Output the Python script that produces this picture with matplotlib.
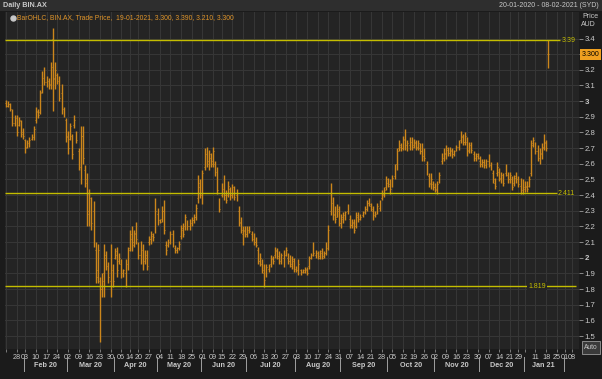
import numpy as np
import pandas as pd
import matplotlib
matplotlib.use("Agg")
import matplotlib.pyplot as plt

# ---------------- data ----------------
holidays = ["2020-01-27", "2020-04-10", "2020-04-13", "2020-06-08", "2020-12-25",
            "2020-12-28", "2021-01-01"]
start_date, end_date = "2020-01-20", "2021-01-19"

highs = [3.01,3.00,2.99,2.95,2.91,2.91,2.90,2.88,2.83,2.76,2.75,2.77,2.79,2.84,2.96,2.95,3.07,3.19,3.22,3.16,
         3.15,3.25,3.47,3.25,3.18,3.16,3.11,2.96,2.89,2.81,2.86,2.79,2.91,2.81,2.70,2.84,2.84,2.59,2.54,2.44,
         2.39,2.36,2.10,2.09,1.88,1.90,2.09,2.04,1.97,2.09,1.96,2.06,2.07,2.03,1.99,1.93,1.99,2.07,2.18,2.20,
         2.18,2.23,2.10,2.11,2.09,2.05,2.05,2.14,2.17,2.16,2.38,2.32,2.25,2.33,2.37,2.11,2.12,2.17,2.18,2.08,
         2.07,2.11,2.21,2.22,2.28,2.24,2.25,2.26,2.28,2.34,2.53,2.50,2.56,2.70,2.71,2.69,2.67,2.71,2.62,2.58,
         2.38,2.48,2.53,2.43,2.49,2.45,2.47,2.46,2.44,2.33,2.26,2.20,2.20,2.20,2.20,2.17,2.16,2.13,2.07,2.03,
         1.99,1.96,1.96,1.96,2.02,2.01,2.07,2.06,2.04,2.03,2.05,2.07,2.03,2.02,2.01,2.00,1.95,1.99,1.93,1.93,
         1.94,1.94,2.01,2.03,2.10,2.05,2.04,2.05,2.06,2.04,2.10,2.21,2.48,2.39,2.33,2.34,2.33,2.28,2.29,2.30,
         2.34,2.27,2.25,2.25,2.29,2.29,2.28,2.30,2.33,2.37,2.38,2.35,2.33,2.30,2.35,2.37,2.43,2.45,2.52,2.51,
         2.50,2.53,2.60,2.70,2.75,2.73,2.78,2.82,2.75,2.77,2.77,2.76,2.75,2.75,2.73,2.73,2.70,2.62,2.54,2.54,
         2.49,2.48,2.49,2.55,2.67,2.70,2.72,2.71,2.71,2.70,2.69,2.72,2.75,2.81,2.79,2.80,2.77,2.74,2.74,2.68,
         2.67,2.67,2.65,2.63,2.63,2.63,2.66,2.61,2.56,2.51,2.61,2.57,2.55,2.54,2.60,2.55,2.55,2.52,2.53,2.55,
         2.52,2.51,2.50,2.49,2.49,2.52,2.75,2.77,2.74,2.72,2.70,2.73,2.79,2.75,3.39]
lows = [2.96,2.96,2.94,2.84,2.84,2.78,2.84,2.77,2.76,2.67,2.70,2.71,2.75,2.75,2.86,2.89,2.92,3.05,3.10,3.09,
        3.08,3.08,2.94,3.08,3.11,3.00,2.92,2.90,2.74,2.66,2.75,2.63,2.83,2.73,2.56,2.47,2.60,2.45,2.20,2.20,
        2.18,2.07,1.84,1.84,1.46,1.75,1.75,1.92,1.84,1.75,1.81,1.99,1.88,1.96,1.87,1.88,1.81,1.92,2.04,2.04,
        2.07,2.09,1.99,1.96,1.92,1.96,1.92,2.08,2.09,2.11,2.16,2.21,2.22,2.23,2.15,2.02,2.07,2.09,2.07,2.03,
        2.03,2.05,2.12,2.13,2.18,2.18,2.18,2.20,2.22,2.24,2.35,2.38,2.34,2.56,2.58,2.56,2.58,2.58,2.52,2.41,
        2.29,2.39,2.37,2.35,2.39,2.37,2.38,2.37,2.36,2.20,2.16,2.08,2.13,2.13,2.16,2.11,2.08,2.07,1.96,1.95,
        1.90,1.815,1.88,1.91,1.94,1.96,2.00,1.99,1.96,1.96,1.94,2.01,1.96,1.94,1.93,1.91,1.91,1.89,1.89,1.90,
        1.90,1.89,1.93,1.99,2.01,2.00,1.99,1.99,1.99,2.00,2.02,2.05,2.27,2.24,2.22,2.26,2.20,2.19,2.22,2.24,
        2.28,2.19,2.19,2.16,2.19,2.23,2.24,2.26,2.28,2.30,2.33,2.30,2.24,2.26,2.28,2.30,2.37,2.39,2.43,2.45,
        2.41,2.45,2.50,2.56,2.68,2.68,2.69,2.69,2.68,2.69,2.69,2.70,2.69,2.69,2.66,2.62,2.62,2.53,2.45,2.44,
        2.43,2.42,2.41,2.48,2.60,2.62,2.63,2.65,2.65,2.64,2.65,2.68,2.69,2.73,2.72,2.72,2.65,2.67,2.67,2.62,
        2.62,2.63,2.58,2.58,2.57,2.57,2.58,2.56,2.48,2.44,2.52,2.49,2.48,2.46,2.52,2.48,2.48,2.43,2.46,2.48,
        2.45,2.41,2.41,2.42,2.42,2.45,2.52,2.71,2.66,2.62,2.60,2.63,2.69,2.68,3.21]
opens = [2.99,2.97,2.98,2.94,2.86,2.89,2.85,2.87,2.80,2.75,2.71,2.73,2.76,2.77,2.88,2.93,2.93,3.06,3.16,3.12,
         3.13,3.11,3.40,3.14,3.17,3.13,3.05,2.95,2.88,2.78,2.76,2.78,2.85,2.80,2.68,2.58,2.78,2.56,2.50,2.28,
         2.30,2.30,2.05,1.92,1.85,1.80,1.90,2.00,1.92,1.85,1.92,2.00,2.02,1.98,1.96,1.90,1.90,1.96,2.06,2.12,
         2.10,2.15,2.08,2.02,2.05,1.98,2.00,2.10,2.12,2.14,2.18,2.28,2.24,2.25,2.30,2.08,2.08,2.10,2.15,2.06,
         2.05,2.06,2.14,2.18,2.20,2.22,2.20,2.22,2.24,2.26,2.38,2.45,2.40,2.58,2.66,2.60,2.64,2.62,2.60,2.55,
         2.35,2.40,2.44,2.40,2.40,2.44,2.40,2.44,2.40,2.30,2.22,2.15,2.17,2.15,2.18,2.15,2.12,2.10,2.05,1.98,
         1.96,1.90,1.88,1.93,1.96,1.99,2.02,2.04,2.00,1.98,2.00,2.02,2.00,1.98,1.96,1.98,1.93,1.93,1.92,1.91,
         1.91,1.92,1.95,2.00,2.05,2.02,2.03,2.01,2.03,2.01,2.03,2.07,2.30,2.35,2.28,2.26,2.30,2.22,2.25,2.26,
         2.30,2.25,2.21,2.22,2.20,2.26,2.25,2.27,2.29,2.31,2.35,2.33,2.30,2.27,2.29,2.32,2.38,2.40,2.45,2.48,
         2.46,2.46,2.52,2.60,2.70,2.71,2.70,2.75,2.71,2.72,2.74,2.72,2.73,2.71,2.70,2.68,2.66,2.60,2.52,2.48,
         2.47,2.45,2.43,2.49,2.62,2.64,2.66,2.69,2.67,2.68,2.66,2.69,2.71,2.75,2.77,2.74,2.74,2.69,2.71,2.66,
         2.64,2.65,2.62,2.60,2.61,2.59,2.62,2.59,2.54,2.48,2.54,2.55,2.50,2.52,2.54,2.53,2.50,2.50,2.48,2.51,
         2.49,2.46,2.43,2.44,2.45,2.46,2.54,2.73,2.72,2.68,2.64,2.66,2.71,2.73,3.30]
closes = [2.97,2.98,2.95,2.86,2.89,2.80,2.88,2.79,2.78,2.70,2.73,2.75,2.78,2.82,2.94,2.91,3.05,3.15,3.12,3.14,
          3.10,3.22,3.15,3.20,3.13,3.02,2.95,2.92,2.77,2.70,2.84,2.66,2.88,2.75,2.60,2.78,2.64,2.48,2.30,2.38,
          2.22,2.10,1.88,2.05,1.80,1.85,2.02,1.95,1.88,2.05,1.85,2.04,1.92,2.00,1.90,1.92,1.98,2.05,2.15,2.08,
          2.16,2.12,2.02,2.08,1.96,2.02,1.95,2.12,2.15,2.13,2.30,2.24,2.23,2.30,2.18,2.05,2.10,2.15,2.09,2.05,
          2.06,2.09,2.19,2.15,2.26,2.20,2.23,2.24,2.26,2.32,2.48,2.40,2.54,2.66,2.62,2.66,2.60,2.68,2.55,2.43,
          2.31,2.45,2.40,2.37,2.46,2.40,2.45,2.39,2.42,2.23,2.18,2.18,2.15,2.18,2.17,2.13,2.10,2.08,1.98,2.00,
          1.92,1.86,1.94,1.95,2.00,1.98,2.05,2.01,1.98,2.02,1.96,2.05,1.98,1.95,1.99,1.93,1.92,1.96,1.90,1.92,
          1.93,1.90,2.00,2.02,2.03,2.04,2.00,2.04,2.00,2.03,2.06,2.18,2.42,2.27,2.25,2.31,2.22,2.26,2.27,2.29,
          2.32,2.21,2.23,2.18,2.27,2.25,2.26,2.28,2.31,2.35,2.34,2.31,2.27,2.28,2.33,2.35,2.41,2.43,2.50,2.47,
          2.44,2.51,2.58,2.68,2.72,2.70,2.76,2.72,2.73,2.75,2.71,2.74,2.70,2.73,2.68,2.65,2.64,2.55,2.47,2.50,
          2.45,2.44,2.47,2.53,2.65,2.67,2.70,2.67,2.69,2.66,2.68,2.71,2.73,2.78,2.74,2.78,2.68,2.72,2.69,2.64,
          2.66,2.64,2.60,2.61,2.59,2.62,2.60,2.57,2.50,2.46,2.58,2.51,2.53,2.48,2.57,2.50,2.53,2.45,2.52,2.50,
          2.47,2.43,2.45,2.46,2.44,2.50,2.72,2.75,2.68,2.64,2.67,2.70,2.74,2.70,3.30]

level_values = [3.39, 2.411, 1.819]
level_labels = ["3.39", "2.411", "1.819"]

week_labels = ["28","03","10","17","24","02","09","16","23","30","06","14","20","27","04","11","18","25",
               "01","09","15","22","29","06","13","20","27","03","10","17","24","31","07","14","21","28",
               "05","12","19","26","02","09","16","23","30","07","14","21","29","","11","18"]
future_week_labels = ["25", "01", "08"]
month_labels = ["Feb 20","Mar 20","Apr 20","May 20","Jun 20","Jul 20","Aug 20","Sep 20","Oct 20",
                "Nov 20","Dec 20","Jan 21"]
y_ticks = [1.5,1.6,1.7,1.8,1.9,2.0,2.1,2.2,2.3,2.4,2.5,2.6,2.7,2.8,2.9,3.0,3.1,3.2,3.3,3.4]
last_price = "3.300"

# ---------------- trading calendar ----------------
days = pd.bdate_range(start_date, end_date)
days = days[~days.isin(pd.to_datetime(holidays))]
n = len(days)
idx = np.arange(n)

# ---------------- styling ----------------
BG_FIG = "#1b1b1b"
BG_AX = "#242424"
GRID = "#363636"
BAR = "#cc861c"
YEL = "#c4bd00"
TXT = "#c9c9c9"
FONT = ["Liberation Sans", "DejaVu Sans"]
plt.rcParams["font.family"] = FONT

W, H = 602, 379
fig = plt.figure(figsize=(W / 100, H / 100), dpi=100, facecolor=BG_FIG)

def fx(px):
    return px / W

def fy(py):
    return 1 - py / H

# header band
fig.patches.append(plt.Rectangle((0, fy(11)), 1, 11 / H, transform=fig.transFigure,
                                 facecolor="#2e2e2e", edgecolor="none", zorder=0))
fig.text(fx(3), fy(5.5), "Daily BIN.AX", color=TXT, fontsize=5.2, va="center", ha="left",
         fontweight="bold")
fig.text(fx(599), fy(5.5), "20-01-2020 - 08-02-2021 (SYD)", color=TXT, fontsize=5.0,
         va="center", ha="right")

ax_l, ax_r, ax_t, ax_b = 5, 579, 12, 349
ax = fig.add_axes([fx(ax_l), fy(ax_b), fx(ax_r - ax_l), (ax_b - ax_t) / H])
ax.set_facecolor(BG_AX)

x0_px, dx_px = 6.0, 2.135
xmin = (ax_l - x0_px) / dx_px
xmax = (ax_r - x0_px) / dx_px
ax.set_xlim(xmin, xmax)
y_per_px = 0.006386
ymax = 3.4 + (38.5 - ax_t) * y_per_px
ymin = 3.4 - (ax_b - 38.5) * y_per_px
ax.set_ylim(ymin, ymax)

for s in ax.spines.values():
    s.set_visible(False)

# week tick positions
week_pos = []
prev_week = None
for i, d in enumerate(days):
    wk = (d - pd.Timedelta(days=d.weekday())).date()
    if wk != prev_week:
        week_pos.append(i)
        prev_week = wk
week_pos = week_pos[1:]  # first week (Jan 20) drawn as tick only
future_pos = [n - 1 + 3.9, n - 1 + 7.6, n - 1 + 10.9]
all_week_pos = week_pos + future_pos
all_week_labels = week_labels[:len(week_pos)] + future_week_labels

# grid
for p in [0] + all_week_pos:
    ax.axvline(p, color=GRID, lw=0.8, zorder=0)
for v in y_ticks:
    ax.axhline(v, color=GRID, lw=0.8, zorder=0)

# OHLC bars
hl = np.array(highs); ll = np.array(lows); op = np.array(opens); cl = np.array(closes)
ax.vlines(idx, ll, hl, color=BAR, lw=1.0, zorder=3)
ax.hlines(op, idx - 0.4, idx, color=BAR, lw=0.6, zorder=3)
ax.hlines(cl, idx, idx + 0.4, color=BAR, lw=0.6, zorder=3)

# horizontal levels
line_end = [(560 - x0_px) / dx_px, (557 - x0_px) / dx_px, (576 - x0_px) / dx_px]
for v, lab, xe in zip(level_values, level_labels, line_end):
    ax.plot([xmin, xe], [v, v], color=YEL, lw=1.0, zorder=4, solid_capstyle="butt")
ax.text((562 - x0_px) / dx_px, level_values[0], level_labels[0], color=YEL, fontsize=5,
        va="center", ha="left", zorder=5)
ax.text((558 - x0_px) / dx_px, level_values[1], level_labels[1], color=YEL, fontsize=5,
        va="center", ha="left", zorder=5)
ax.text((537 - x0_px) / dx_px, level_values[2], level_labels[2], color=YEL, fontsize=5,
        va="center", ha="center", zorder=5,
        bbox=dict(facecolor=BG_AX, edgecolor="none", pad=0.6))

# legend line
ax.text((17 - x0_px) / dx_px, 3.4 + (38.5 - 17.5) * y_per_px,
        "BarOHLC, BIN.AX, Trade Price,  19-01-2021, 3.300, 3.390, 3.210, 3.300",
        color="#e0952a", fontsize=4.9, va="center", ha="left", zorder=6)
ax.plot([(12.5 - x0_px) / dx_px], [3.4 + (38.5 - 17.5) * y_per_px], "o", ms=3.6,
        color="#c8c8c8", zorder=6)

# y axis on right
ax.yaxis.tick_right()
ax.set_yticks(y_ticks)
ax.set_yticklabels([("%g" % v) for v in y_ticks])
ax.tick_params(axis="y", colors=TXT, labelsize=5.6, length=3, width=0.7, pad=1, direction="out")
ax.tick_params(axis="y", which="both", color="#8a8a8a")
for t in ax.get_yticklabels():
    if t.get_text() == "3.3":
        t.set_visible(False)
    if t.get_text() in ("2", "3"):
        t.set_fontweight("bold")

fig.text(fx(590), fy(17), "Price", color=TXT, fontsize=5, ha="center", va="center")
fig.text(fx(588), fy(25), "AUD", color=TXT, fontsize=5, ha="center", va="center")
fig.text(fx(590.5), fy(54.5), last_price, color="#000000", fontsize=5.0, ha="center", va="center",
         bbox=dict(facecolor="#f0a020", edgecolor="none", pad=0.3, boxstyle="square"))
fig.text(fx(591), fy(347.5), "Auto", color=TXT, fontsize=4.8, ha="center", va="center",
         bbox=dict(facecolor="#3a3a3a", edgecolor="#9a9a9a", lw=0.6, pad=0.4, boxstyle="square"))

# x axis
ax.set_xticks([0] + all_week_pos)
ax.set_xticklabels([""] + all_week_labels)
ax.tick_params(axis="x", colors=TXT, labelsize=5.2, length=2, width=0.6, pad=1.5)
ax.tick_params(axis="x", color="#8a8a8a")

# month separators and labels
month_start = []
for i, d in enumerate(days):
    if i > 0 and d.month != days[i - 1].month:
        month_start.append(i)
seps = [m - 0.5 for m in month_start] + [n - 1 + 7.3]
for k, lab in enumerate(month_labels):
    a, b = seps[k], seps[k + 1]
    ax.text((a + b) / 2, -0.05, lab, transform=ax.get_xaxis_transform(), color=TXT,
            fontsize=5.2, fontweight="bold", ha="center", va="center", clip_on=False)
for s in seps:
    ax.plot([s, s], [-0.025, -0.065], transform=ax.get_xaxis_transform(), color="#a0a0a0",
            lw=0.7, clip_on=False)

fig.savefig("out.png", dpi=100, facecolor=BG_FIG)
